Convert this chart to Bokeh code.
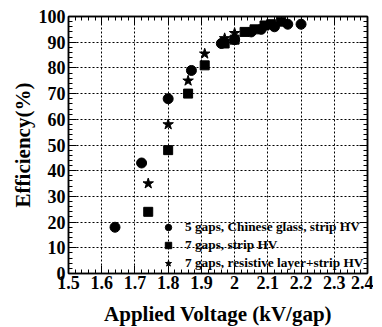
from bokeh.plotting import figure
from bokeh.models import (Range1d, FixedTicker, LinearAxis, Legend, LegendItem,
                          CustomJSTickFormatter)
from bokeh.embed import file_html
from bokeh.resources import INLINE

# 5 gaps, Chinese glass, strip HV
glass_v = [1.64, 1.72, 1.80, 1.87, 1.96, 2.00, 2.05, 2.08, 2.12, 2.16, 2.20]
glass_e = [18, 43, 68, 79, 89.5, 91, 94, 95, 96, 97, 97]
# 7 gaps, strip HV
strip_v = [1.74, 1.80, 1.86, 1.91, 1.97, 2.00, 2.03, 2.06, 2.09, 2.11, 2.14]
strip_e = [24, 48, 70, 81, 89.5, 91, 94, 95, 96.5, 97, 98]
# 7 gaps, resistive layer+strip HV
resist_v = [1.74, 1.80, 1.86, 1.91, 1.97, 2.00]
resist_e = [35, 58, 75, 85.5, 91.5, 93.5]

x_ticks = [1.5, 1.6, 1.7, 1.8, 1.9, 2.0, 2.1, 2.2, 2.3, 2.4]
y_ticks = [0, 10, 20, 30, 40, 50, 60, 70, 80, 90, 100]
labels = ["5 gaps, Chinese glass, strip HV", "7 gaps, strip HV",
          "7 gaps, resistive layer+strip HV"]

FONT = "'Liberation Serif', 'Times New Roman', serif"

p = figure(frame_width=299, frame_height=257, output_backend="svg", toolbar_location=None,
           x_range=Range1d(1.5, 2.4), y_range=Range1d(0, 100),
           min_border_left=68, min_border_right=6, min_border_top=16,
           min_border_bottom=50)
p.outline_line_color = "black"
p.outline_line_width = 1.5

xminor = [round(1.5 + 0.02 * i, 2) for i in range(46)]
yminor = [2 * i for i in range(51)]

def style(ax, ticks, minor, show_labels):
    ax.ticker = FixedTicker(ticks=ticks, minor_ticks=minor)
    ax.axis_line_color = "black"
    ax.axis_line_width = 1.5
    ax.major_tick_in = 8
    ax.major_tick_out = 0
    ax.minor_tick_in = 4
    ax.minor_tick_out = 0
    ax.major_tick_line_color = "black"
    ax.minor_tick_line_color = "black"
    if show_labels:
        ax.major_label_text_font = FONT
        ax.major_label_text_font_style = "bold"
        ax.major_label_text_font_size = "18px"
        ax.major_label_text_color = "black"
        ax.axis_label_text_font = FONT
        ax.axis_label_text_font_style = "bold"
        ax.axis_label_text_font_size = "21px"
        ax.axis_label_text_color = "black"
    else:
        ax.formatter = CustomJSTickFormatter(code="return '';")
        ax.major_label_standoff = 0

style(p.xaxis[0], x_ticks, xminor, True)
style(p.yaxis[0], y_ticks, yminor, True)
p.xaxis[0].formatter = CustomJSTickFormatter(code="return String(Math.round(tick*10)/10);")
p.xaxis[0].major_label_standoff = 2
p.yaxis[0].major_label_standoff = 3
p.xaxis[0].axis_label = "Applied Voltage (kV/gap)"
p.yaxis[0].axis_label = "Efficiency(%)"
p.xaxis[0].axis_label_standoff = 10
p.yaxis[0].axis_label_standoff = 1

top = LinearAxis()
style(top, x_ticks, xminor, False)
p.add_layout(top, "above")
right = LinearAxis()
style(right, y_ticks, yminor, False)
p.add_layout(right, "right")

for g in (p.xgrid[0], p.ygrid[0]):
    g.grid_line_color = "black"
    g.grid_line_dash = "2 2"
    g.grid_line_width = 1
p.xgrid[0].ticker = FixedTicker(ticks=x_ticks)
p.ygrid[0].ticker = FixedTicker(ticks=y_ticks)

r1 = p.scatter(glass_v, glass_e, marker="circle", size=10, color="black")
r2 = p.scatter(strip_v, strip_e, marker="square", size=9, color="black")
r3 = p.scatter(resist_v, resist_e, marker="star", size=11, color="black")

legend = Legend(items=[LegendItem(label=labels[0], renderers=[r1]),
                       LegendItem(label=labels[1], renderers=[r2]),
                       LegendItem(label=labels[2], renderers=[r3])],
                location=(92, 1), background_fill_alpha=0, border_line_alpha=0,
                padding=0, margin=0, spacing=0, glyph_width=16, glyph_height=18,
                label_height=18, label_standoff=9,
                label_text_font=FONT, label_text_font_style="bold",
                label_text_font_size="13.3px", label_text_color="black")
p.add_layout(legend)

open("out.html", "w").write(file_html(p, INLINE))
